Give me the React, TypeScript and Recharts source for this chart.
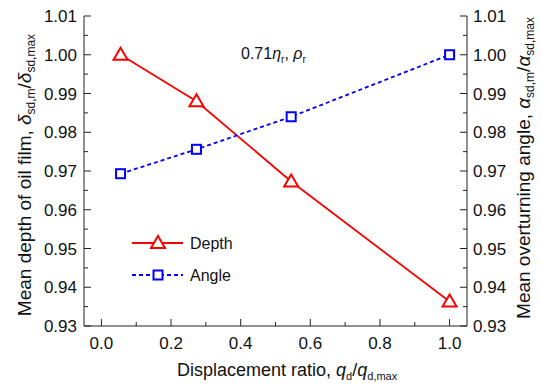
import React from "react";
import { LineChart, Line, XAxis, YAxis, Legend, Label, Customized } from "recharts";

// displacement ratio q_d / q_d,max
const ratio = [0.055, 0.273, 0.545, 1.0];
// mean depth of oil film (normalised)
const depth = [1.0, 0.988, 0.9673, 0.9363];
// mean overturning angle (normalised)
const angle = [0.9693, 0.9756, 0.984, 1.0];

const xTicks = [0, 0.1, 0.2, 0.3, 0.4, 0.5, 0.6, 0.7, 0.8, 0.9, 1.0];
const yTicks = [
  0.93, 0.935, 0.94, 0.945, 0.95, 0.955, 0.96, 0.965, 0.97, 0.975, 0.98,
  0.985, 0.99, 0.995, 1.0, 1.005, 1.01,
];

const data = ratio.map((r, i) => ({ ratio: r, depth: depth[i], angle: angle[i] }));

const FONT = '"Liberation Sans", Arial, sans-serif';
const AXIS = "#222";
const RED = "#ff0000";
const BLUE = "#0000ff";

const isMajorX = (v: number) => Math.round(v * 10) % 2 === 0;
const isMajorY = (v: number) => Math.round(v * 1000) % 10 === 0;

const LeftTick = (props: any) => {
  const { x, y, payload } = props;
  const v = payload.value as number;
  const major = isMajorY(v);
  const ax = x + 7;
  return (
    <g>
      <line x1={ax} y1={y} x2={ax + (major ? 7 : 4)} y2={y} stroke={AXIS} />
      {major && (
        <text x={x} y={y} dy={6} textAnchor="end" fontSize={17} fontFamily={FONT} fill="#111">
          {v.toFixed(2)}
        </text>
      )}
    </g>
  );
};

const RightTick = (props: any) => {
  const { x, y, payload } = props;
  const v = payload.value as number;
  const major = isMajorY(v);
  const ax = x - 6;
  return (
    <g>
      <line x1={ax} y1={y} x2={ax - (major ? 7 : 4)} y2={y} stroke={AXIS} />
      {major && (
        <text x={x} y={y} dy={6} textAnchor="start" fontSize={17} fontFamily={FONT} fill="#111">
          {v.toFixed(2)}
        </text>
      )}
    </g>
  );
};

const BottomTick = (props: any) => {
  const { x, y, payload } = props;
  const v = payload.value as number;
  const major = isMajorX(v);
  return (
    <g>
      <line x1={x} y1={y} x2={x} y2={y - (major ? 7 : 4)} stroke={AXIS} />
      {major && (
        <text x={x} y={y + 23} textAnchor="middle" fontSize={17} fontFamily={FONT} fill="#111">
          {v.toFixed(1)}
        </text>
      )}
    </g>
  );
};

const Triangle = (props: any) => {
  const { cx, cy } = props;
  if (cx == null || cy == null) return null;
  return (
    <polygon
      points={`${cx},${cy - 7} ${cx - 7},${cy + 5} ${cx + 7},${cy + 5}`}
      fill="#fff"
      stroke={RED}
      strokeWidth={2}
    />
  );
};

const Square = (props: any) => {
  const { cx, cy } = props;
  if (cx == null || cy == null) return null;
  return <rect x={cx - 4.5} y={cy - 4.5} width={9} height={9} fill="#fff" stroke={BLUE} strokeWidth={2} />;
};

const XTitle = () => (
  <text x={177} y={376} fontSize={18} fontFamily={FONT} fill="#111">
    Displacement ratio,{" "}
    <tspan fontStyle="italic">q</tspan>
    <tspan fontSize={11} dy={4}>d</tspan>
    <tspan dy={-4}>/</tspan>
    <tspan fontStyle="italic">q</tspan>
    <tspan fontSize={11} dy={4}>d,max</tspan>
  </text>
);

const YTitle = ({ cx, cy, text, sym }: { cx: number; cy: number; text: string; sym: string }) => (
  <text
    x={cx}
    y={cy}
    transform={`rotate(-90 ${cx} ${cy})`}
    textAnchor="middle"
    fontSize={19}
    fontFamily={FONT}
    fill="#111"
  >
    {text}{" "}
    <tspan fontStyle="italic">{sym}</tspan>
    <tspan fontSize={12} dy={4}>sd,m</tspan>
    <tspan dy={-4}>/</tspan>
    <tspan fontStyle="italic">{sym}</tspan>
    <tspan fontSize={12} dy={4}>sd,max</tspan>
  </text>
);

const Note = () => (
  <text x={241} y={59} fontSize={16} fontFamily={FONT} fill="#111">
    0.71
    <tspan fontStyle="italic">η</tspan>
    <tspan fontSize={10} dy={4}>r</tspan>
    <tspan dy={-4}>, </tspan>
    <tspan fontStyle="italic">ρ</tspan>
    <tspan fontSize={10} dy={4}>r</tspan>
  </text>
);

const LegendBox = () => (
  <svg width={120} height={60}>
    <line x1={7} y1={13} x2={58} y2={13} stroke={RED} strokeWidth={1.8} />
    <Triangle cx={33} cy={13} />
    <text x={65} y={19} fontSize={16} fontFamily={FONT} fill="#111">Depth</text>
    <line x1={7} y1={45} x2={58} y2={45} stroke={BLUE} strokeWidth={1.8} strokeDasharray="4 3" />
    <Square cx={33} cy={45} />
    <text x={65} y={51} fontSize={16} fontFamily={FONT} fill="#111">Angle</text>
  </svg>
);

export default function App() {
  return (
    <div style={{ position: "absolute", left: 0, top: 0, width: 541, height: 387, background: "#fff" }}>
      <LineChart width={541} height={387} data={data} margin={{ top: 16, right: 0, bottom: 0, left: 0 }}>
        <XAxis
          dataKey="ratio"
          type="number"
          domain={[-0.05, 1.05]}
          ticks={xTicks}
          interval={0}
          height={61}
          tickLine={false}
          tickSize={0}
          tickMargin={0}
          tick={(p: any) => <BottomTick {...p} />}
          axisLine={{ stroke: AXIS }}
        >
          <Label content={() => <XTitle />} />
        </XAxis>
        <XAxis
          xAxisId="top"
          dataKey="ratio"
          type="number"
          domain={[-0.05, 1.05]}
          orientation="top"
          height={0}
          tick={false}
          tickLine={false}
          axisLine={{ stroke: AXIS }}
        />
        <YAxis
          yAxisId="left"
          domain={[0.93, 1.01]}
          ticks={yTicks}
          interval={0}
          width={84}
          tickLine={false}
          tickSize={0}
          tickMargin={7}
          tick={(p: any) => <LeftTick {...p} />}
          axisLine={{ stroke: AXIS }}
        >
          <Label content={() => <YTitle cx={31} cy={175} text="Mean depth of oil film," sym="δ" />} />
        </YAxis>
        <YAxis
          yAxisId="right"
          orientation="right"
          domain={[0.93, 1.01]}
          ticks={yTicks}
          interval={0}
          width={74}
          tickLine={false}
          tickSize={0}
          tickMargin={6}
          tick={(p: any) => <RightTick {...p} />}
          axisLine={{ stroke: AXIS }}
        >
          <Label content={() => <YTitle cx={530} cy={168} text="Mean overturning angle," sym="α" />} />
        </YAxis>
        <Line
          yAxisId="left"
          dataKey="depth"
          stroke={RED}
          strokeWidth={1.8}
          dot={(p: any) => <Triangle key={`t${p.index}`} {...p} />}
          activeDot={false}
          isAnimationActive={false}
        />
        <Line
          yAxisId="right"
          dataKey="angle"
          stroke={BLUE}
          strokeWidth={1.8}
          strokeDasharray="4 3"
          dot={(p: any) => <Square key={`s${p.index}`} {...p} />}
          activeDot={false}
          isAnimationActive={false}
        />
        <Customized component={() => <Note />} />
        <Legend
          layout="horizontal"
          verticalAlign="middle"
          align="center"
          content={() => <LegendBox />}
          wrapperStyle={{ left: 125, top: 230, width: 120, height: 60 }}
        />
      </LineChart>
    </div>
  );
}
